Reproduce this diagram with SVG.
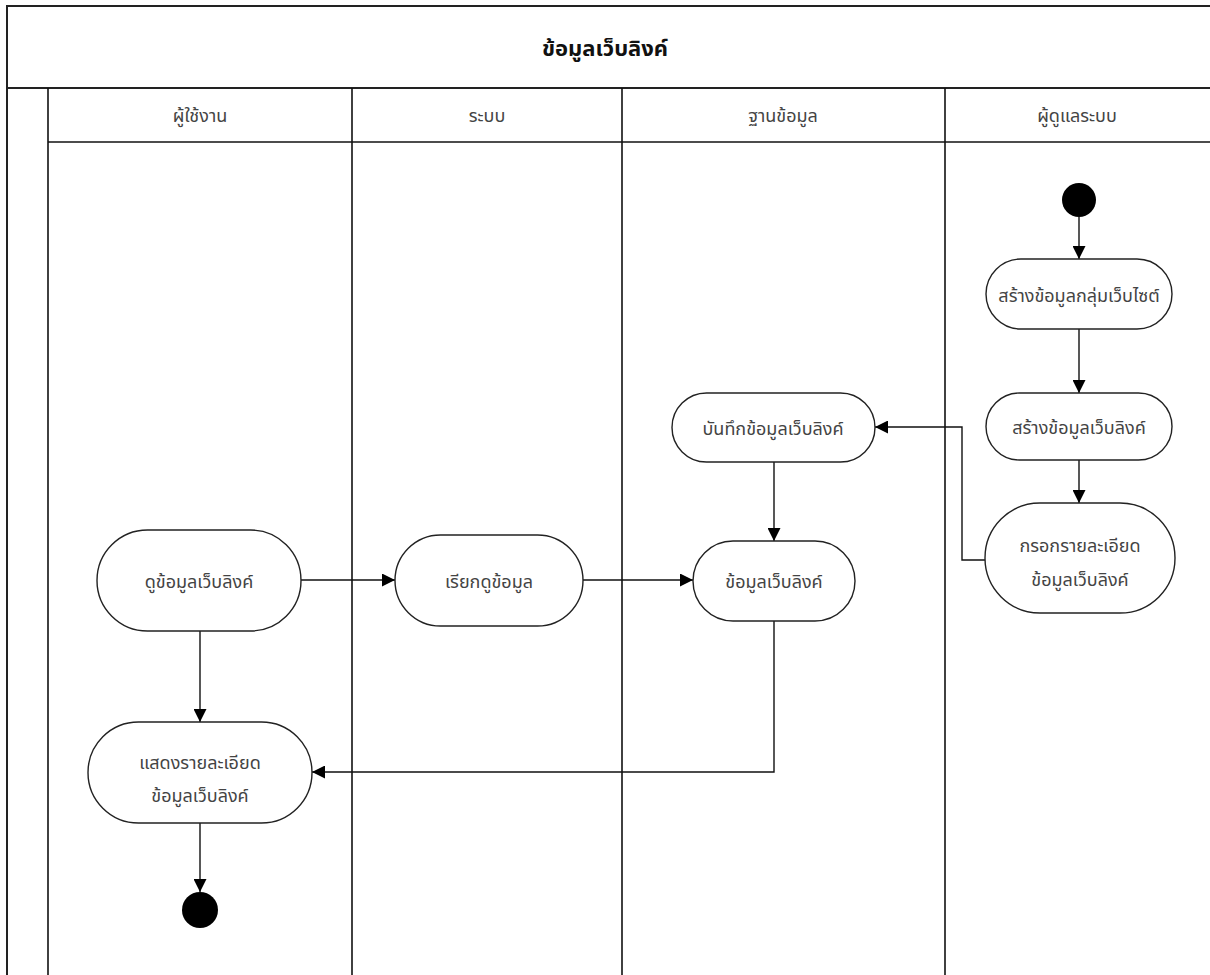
<svg xmlns="http://www.w3.org/2000/svg" width="1210" height="975" viewBox="0 0 1210 975">
<defs>
<style>
.frame{fill:none;stroke:#222;stroke-width:2}
.lane{fill:none;stroke:#111;stroke-width:1.6}
.node{fill:#fff;stroke:#222;stroke-width:1.4}
.t{font-family:"Noto Sans Thai","Noto Sans","DejaVu Sans",sans-serif;font-size:18px;fill:#444;text-anchor:middle;dominant-baseline:central}
.h{font-family:"Noto Sans Thai","Noto Sans","DejaVu Sans",sans-serif;font-size:18px;fill:#444;text-anchor:middle;dominant-baseline:central}
.title{font-family:"Noto Sans Thai","Noto Sans","DejaVu Sans",sans-serif;font-size:22px;font-weight:bold;fill:#111;text-anchor:middle;dominant-baseline:central}
.edge{fill:none;stroke:#111;stroke-width:1.4;marker-end:url(#arr)}
.dot{fill:#000}
</style>
<marker id="arr" viewBox="0 0 10 10" refX="10" refY="5" markerWidth="13" markerHeight="13" markerUnits="userSpaceOnUse" orient="auto">
<path d="M0,0 L10,5 L0,10 z" fill="#000"/>
</marker>
</defs>
<rect width="1210" height="975" fill="#fff"/>
<g id="pool">
<rect class="frame" x="7" y="6" width="1210" height="980"/>
<line class="frame" x1="7" y1="88" x2="1210" y2="88"/>
<line class="lane" x1="48" y1="88" x2="48" y2="975"/>
<line class="lane" x1="48" y1="142" x2="1210" y2="142"/>
<line class="lane" x1="352" y1="88" x2="352" y2="975"/>
<line class="lane" x1="622" y1="88" x2="622" y2="975"/>
<line class="lane" x1="945" y1="88" x2="945" y2="975"/>
<text class="title" x="605" y="49">ข้อมูลเว็บลิงค์</text>
<text class="h" x="200" y="116">ผู้ใช้งาน</text>
<text class="h" x="487" y="116">ระบบ</text>
<text class="h" x="783" y="116">ฐานข้อมูล</text>
<text class="h" x="1077" y="116">ผู้ดูแลระบบ</text>
</g>
<g id="connectors">
<line class="edge" x1="1079" y1="217" x2="1079" y2="259"/>
<line class="edge" x1="1079" y1="329" x2="1079" y2="393"/>
<line class="edge" x1="1079" y1="460" x2="1079" y2="503"/>
<polyline class="edge" points="985,560 962,560 962,427 875,427"/>
<line class="edge" x1="774" y1="462" x2="774" y2="541"/>
<line class="edge" x1="301" y1="580" x2="395" y2="580"/>
<line class="edge" x1="583" y1="580" x2="693" y2="580"/>
<line class="edge" x1="200" y1="631" x2="200" y2="722"/>
<polyline class="edge" points="774,621 774,772 312,772"/>
<line class="edge" x1="200" y1="823" x2="200" y2="892"/>
</g>
<g id="start"><circle class="dot" cx="1079" cy="200" r="17"/></g>
<g id="n1"><rect class="node" x="986" y="259" width="186" height="70" rx="35"/><text class="t" x="1079" y="296">สร้างข้อมูลกลุ่มเว็บไซต์</text></g>
<g id="n2"><rect class="node" x="986" y="393" width="186" height="67" rx="33.5"/><text class="t" x="1079" y="428">สร้างข้อมูลเว็บลิงค์</text></g>
<g id="n3"><rect class="node" x="985" y="503" width="190" height="110" rx="55"/><text class="t" x="1080" y="546">กรอกรายละเอียด</text><text class="t" x="1080" y="580">ข้อมูลเว็บลิงค์</text></g>
<g id="n4"><rect class="node" x="672" y="393" width="203" height="69" rx="34.5"/><text class="t" x="773" y="429">บันทึกข้อมูลเว็บลิงค์</text></g>
<g id="n5"><rect class="node" x="693" y="541" width="162" height="80" rx="40"/><text class="t" x="774" y="582">ข้อมูลเว็บลิงค์</text></g>
<g id="n6"><rect class="node" x="97" y="530" width="204" height="101" rx="50.5"/><text class="t" x="199" y="582">ดูข้อมูลเว็บลิงค์</text></g>
<g id="n7"><rect class="node" x="395" y="535" width="188" height="91" rx="45.5"/><text class="t" x="489" y="582">เรียกดูข้อมูล</text></g>
<g id="n8"><rect class="node" x="88" y="722" width="224" height="101" rx="50.5"/><text class="t" x="200" y="763">แสดงรายละเอียด</text><text class="t" x="200" y="796">ข้อมูลเว็บลิงค์</text></g>
<g id="end"><circle class="dot" cx="200" cy="910" r="18"/></g>
</svg>
